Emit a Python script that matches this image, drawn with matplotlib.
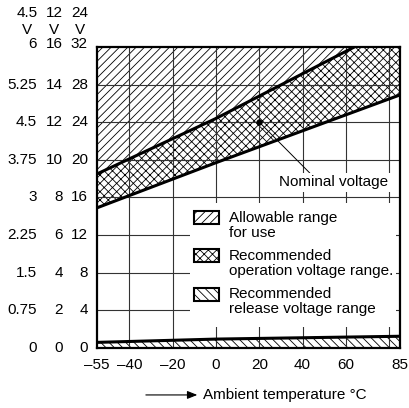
import matplotlib
matplotlib.use('Agg')
import matplotlib.pyplot as plt
from matplotlib.patches import Rectangle, FancyArrowPatch
from matplotlib.transforms import blended_transform_factory

plt.rcParams['font.family'] = ['Liberation Sans', 'DejaVu Sans']
plt.rcParams['font.size'] = 11
plt.rcParams['hatch.linewidth'] = 0.6

# Data (voltages on the 24 V scale)
temp = [-55, 0, 85]
op_upper = [18.5, 24.4, 34.5]     # upper edge of recommended operation range
op_lower = [14.9, 19.7, 26.9]     # lower edge of recommended operation range
release_upper = [0.6, 0.95, 1.25]  # upper edge of recommended release range
v_max = 32
nominal = (20, 24)

x_ticks = [-55, -40, -20, 0, 20, 40, 60, 85]
x_grid = [-40, -20, 0, 20, 40, 60, 80]
y_grid = [4, 8, 12, 16, 20, 24, 28]
y_vals = [0, 4, 8, 12, 16, 20, 24, 28, 32]
col_45 = ['0', '0.75', '1.5', '2.25', '3', '3.75', '4.5', '5.25', '6']
col_12 = ['0', '2', '4', '6', '8', '10', '12', '14', '16']
col_24 = ['0', '4', '8', '12', '16', '20', '24', '28', '32']
col_heads = ['4.5', '12', '24']

legend_hatches = ['////', 'xxxx', '\\\\\\\\']
legend_labels = ['Allowable range\nfor use',
                 'Recommended\noperation voltage range.',
                 'Recommended\nrelease voltage range']

fig = plt.figure(figsize=(4.1, 4.08), dpi=100)
ax = fig.add_axes([0.2366, 0.147, 0.739, 0.738])

# Hatched ranges
ax.fill_between(temp, op_upper, v_max, facecolor='white', edgecolor='black',
                hatch='////', linewidth=0, zorder=1)
ax.fill_between(temp, op_lower, op_upper, facecolor='white', edgecolor='black',
                hatch='xxxx', linewidth=0, zorder=1)
ax.fill_between(temp, 0, release_upper, facecolor='white', edgecolor='black',
                hatch='\\\\\\\\', linewidth=0, zorder=1)

# Grid
for gx in x_grid:
    ax.axvline(gx, color='#333333', lw=0.8, zorder=2)
for gy in y_grid:
    ax.axhline(gy, color='#333333', lw=0.8, zorder=2)

# Boundary lines
ax.plot(temp, op_upper, color='black', lw=2.2, zorder=4)
ax.plot(temp, op_lower, color='black', lw=2.2, zorder=4)
ax.plot(temp, release_upper, color='black', lw=2.2, zorder=4)

# Nominal voltage
ax.plot(*nominal, 'o', color='black', ms=3.5, zorder=5)
ax.annotate('Nominal voltage', xy=nominal, xytext=(54.5, 17.6),
            ha='center', va='center', zorder=6,
            bbox=dict(boxstyle='square,pad=0.15', fc='white', ec='none'),
            arrowprops=dict(arrowstyle='-', lw=0.7, color='black',
                            relpos=(0.3, 1.0), shrinkA=0, shrinkB=0))

# Legend area
ax.add_patch(Rectangle((0.307, 0.07), 0.68, 0.41, transform=ax.transAxes,
                       facecolor='white', edgecolor='none', zorder=3))
box_y = [0.4336, 0.3073, 0.1777]
text_y = [0.407, 0.2807, 0.1545]
for hatch, lab, by, ty in zip(legend_hatches, legend_labels, box_y, text_y):
    ax.add_patch(Rectangle((0.320, by - 0.0216), 0.0825, 0.0432,
                           transform=ax.transAxes, facecolor='white',
                           edgecolor='black', hatch=hatch, lw=1.5, zorder=7))
    ax.text(0.4356, ty, lab, transform=ax.transAxes, ha='left', va='center',
            linespacing=1.12, zorder=7)

ax.set_xlim(-55, 85)
ax.set_ylim(0, v_max)
ax.set_xticks(x_ticks)
ax.set_xticklabels([str(t).replace('-', '\u2013') for t in x_ticks])
ax.set_yticks([])
ax.tick_params(axis='x', length=0, pad=7.5)
for s in ax.spines.values():
    s.set_linewidth(1.6)
    s.set_zorder(8)

# Three voltage scales on the left
tr = blended_transform_factory(ax.transAxes, ax.transData)
for xpos, col in zip([-0.198, -0.112, -0.03], [col_45, col_12, col_24]):
    for v, lab in zip(y_vals, col):
        ax.text(xpos, v + (0.3 if v == v_max else 0), lab, transform=tr,
                ha='right', va='center')
for xpos, head in zip([-0.231, -0.142, -0.056], col_heads):
    ax.text(xpos, 1.113, head, transform=ax.transAxes, ha='center', va='center')
    ax.text(xpos, 1.056, 'V', transform=ax.transAxes, ha='center', va='center')

# X-axis title with arrow
fig.text(0.495, 0.032, 'Ambient temperature \u00b0C', ha='left', va='center')
fig.add_artist(FancyArrowPatch(
    (0.349, 0.032), (0.488, 0.032), transform=fig.transFigure,
    arrowstyle='-|>,head_length=0.5,head_width=0.2', lw=0.8, color='black',
    mutation_scale=12))

fig.savefig('out.png', dpi=100)
